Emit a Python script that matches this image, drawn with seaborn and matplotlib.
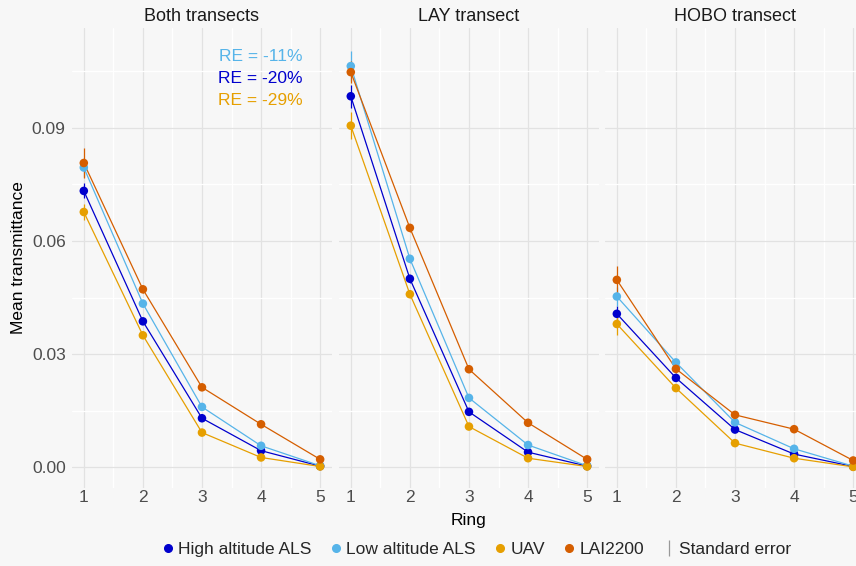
import pandas as pd
import matplotlib.pyplot as plt
import seaborn as sns
from matplotlib.lines import Line2D
from matplotlib.ticker import MultipleLocator

# Ring numbers and methods
rings = [1, 2, 3, 4, 5]
methods = ['High altitude ALS', 'Low altitude ALS', 'UAV', 'LAI2200']
panels = ['Both transects', 'LAY transect', 'HOBO transect']
colors = ['#0000CD', '#56B4E9', '#E69F00', '#D55E00']

# Mean transmittance per ring
both_high = [0.0733, 0.0387, 0.0130, 0.0044, 0.0003]
both_low = [0.0795, 0.0434, 0.0160, 0.0057, 0.0004]
both_uav = [0.0677, 0.0350, 0.0092, 0.0026, 0.0002]
both_lai = [0.0807, 0.0472, 0.0212, 0.0114, 0.0021]

lay_high = [0.0984, 0.0500, 0.0147, 0.0040, 0.0003]
lay_low = [0.1064, 0.0553, 0.0184, 0.0059, 0.0004]
lay_uav = [0.0906, 0.0459, 0.0108, 0.0024, 0.0002]
lay_lai = [0.1048, 0.0635, 0.0260, 0.0118, 0.0021]

hobo_high = [0.0407, 0.0237, 0.0100, 0.0035, 0.0002]
hobo_low = [0.0453, 0.0278, 0.0119, 0.0049, 0.0003]
hobo_uav = [0.0380, 0.0210, 0.0064, 0.0024, 0.0001]
hobo_lai = [0.0497, 0.0261, 0.0139, 0.0101, 0.0018]

# Standard errors (estimated)
both_high_se = [0.0020, 0.0008, 0.0005, 0.0003, 0.0001]
both_low_se = [0.0025, 0.0008, 0.0005, 0.0003, 0.0001]
both_uav_se = [0.0020, 0.0008, 0.0005, 0.0003, 0.0001]
both_lai_se = [0.0040, 0.0010, 0.0006, 0.0004, 0.0002]

lay_high_se = [0.0030, 0.0010, 0.0006, 0.0003, 0.0001]
lay_low_se = [0.0040, 0.0010, 0.0006, 0.0003, 0.0001]
lay_uav_se = [0.0035, 0.0010, 0.0006, 0.0003, 0.0001]
lay_lai_se = [0.0030, 0.0010, 0.0006, 0.0004, 0.0002]

hobo_high_se = [0.0020, 0.0008, 0.0005, 0.0003, 0.0001]
hobo_low_se = [0.0025, 0.0008, 0.0005, 0.0003, 0.0001]
hobo_uav_se = [0.0030, 0.0008, 0.0005, 0.0003, 0.0001]
hobo_lai_se = [0.0038, 0.0010, 0.0006, 0.0004, 0.0002]

re_labels = ['RE = -11%', 'RE = -20%', 'RE = -29%']
re_colors = ['#56B4E9', '#0000CD', '#E69F00']

values = {
    'Both transects': [both_high, both_low, both_uav, both_lai],
    'LAY transect': [lay_high, lay_low, lay_uav, lay_lai],
    'HOBO transect': [hobo_high, hobo_low, hobo_uav, hobo_lai],
}
errors = {
    'Both transects': [both_high_se, both_low_se, both_uav_se, both_lai_se],
    'LAY transect': [lay_high_se, lay_low_se, lay_uav_se, lay_lai_se],
    'HOBO transect': [hobo_high_se, hobo_low_se, hobo_uav_se, hobo_lai_se],
}

rows = []
for p in panels:
    for m, v, e in zip(methods, values[p], errors[p]):
        for r, t, s in zip(rings, v, e):
            rows.append({'Panel': p, 'Method': m, 'Ring': r, 'T': t, 'SE': s})
df = pd.DataFrame(rows)

sns.set_theme(style='white')
plt.rcParams['font.family'] = ['Liberation Sans', 'DejaVu Sans']

bg = '#F7F7F7'
fig = plt.figure(figsize=(8.56, 5.66), dpi=100, facecolor=bg)
palette = dict(zip(methods, colors))

lefts = [0.0841, 0.396, 0.7068]
axes = []
for i, p in enumerate(panels):
    ax = fig.add_axes([lefts[i], 0.1378, 0.3037, 0.8127], facecolor=bg)
    axes.append(ax)
    sub = df[df['Panel'] == p]

    for m in methods:
        s = sub[sub['Method'] == m]
        ax.errorbar(s['Ring'], s['T'], yerr=s['SE'], fmt='none',
                    ecolor=palette[m], elinewidth=0.9, capsize=0, zorder=2)
    sns.lineplot(data=sub, x='Ring', y='T', hue='Method', hue_order=methods,
                 palette=palette, linewidth=0.9, legend=False, ax=ax, zorder=3)
    sns.scatterplot(data=sub, x='Ring', y='T', hue='Method', hue_order=methods,
                    palette=palette, s=38, linewidth=0, legend=False, ax=ax, zorder=4)

    ax.set_xlim(0.8, 5.2)
    ax.set_ylim(-0.0055, 0.1165)
    ax.set_xticks(rings)
    ax.set_yticks([0, 0.03, 0.06, 0.09])
    ax.xaxis.set_minor_locator(MultipleLocator(0.5))
    ax.yaxis.set_minor_locator(MultipleLocator(0.015))
    ax.grid(which='major', color='#E2E2E2', linewidth=0.9)
    ax.grid(which='minor', color='white', linewidth=0.9)
    ax.set_axisbelow(True)
    for sp in ax.spines.values():
        sp.set_visible(False)
    ax.tick_params(which='both', length=0, labelsize=12.5, labelcolor='#4D4D4D')
    ax.tick_params(axis='x', pad=1.5)
    ax.tick_params(axis='y', pad=4.5)
    ax.set_title(p, fontsize=13, color='#1A1A1A', pad=5)
    ax.set_xlabel('')
    ax.set_ylabel('')
    if i == 0:
        ax.set_yticklabels(['0.00', '0.03', '0.06', '0.09'])
        ax.set_ylabel('Mean transmittance', fontsize=12.5, color='black', labelpad=4)
    else:
        ax.set_yticklabels([])
    if i == 1:
        ax.set_xlabel('Ring', fontsize=12.5, color='black', labelpad=6)

# Relative error annotations in first panel
for k, (lab, c) in enumerate(zip(re_labels, re_colors)):
    axes[0].text(0.888, 0.937 - k * 0.047, lab, transform=axes[0].transAxes,
                 ha='right', va='center', fontsize=12.5, color=c)

handles = [Line2D([], [], marker='o', linestyle='', color=c, markersize=5.5, label=m)
           for m, c in zip(methods, colors)]
handles.append(Line2D([], [], marker='|', linestyle='', color='#999999',
                      markersize=12, markeredgewidth=0.9, label='Standard error'))
fig.legend(handles=handles, loc='center', bbox_to_anchor=(0.555, 0.03), ncol=5,
           frameon=False, fontsize=12.5, handletextpad=0.1, columnspacing=0.9,
           handlelength=1.0)

fig.savefig('out.png', dpi=100, facecolor=bg)
